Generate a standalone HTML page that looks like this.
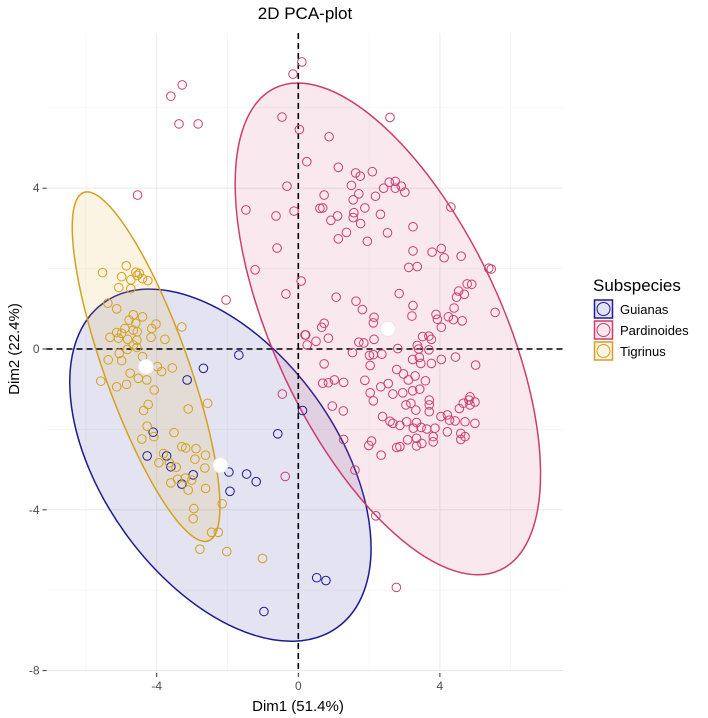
<!DOCTYPE html>
<html><head><meta charset="utf-8">
<style>
body{margin:0;background:#fff;}
svg{display:block;font-family:"Liberation Sans",Arial,sans-serif;}
</style></head>
<body>
<svg id="chart" width="708" height="718" viewBox="0 0 708 718"></svg>
<script>
const groups=["Guianas","Pardinoides","Tigrinus"];
const colors=["#1c1c8f","#cc3d6e","#d4a020"];
const fills=["rgba(28,28,143,0.12)","rgba(220,80,130,0.13)","rgba(230,180,60,0.15)"];
const xTicks=[-4,0,4];
const yTicks=[4,0,-4,-8];
const xMinor=[-6,-2,2,6];
const yMinor=[6,2,-2,-6];
const guianasX=[-1.68,-2.68,-3.14,-4.1,-4.27,-3.72,-3.6,-3.29,-2.97,-1.96,-1.93,-1.46,-1.19,-0.58,0.12,0.52,0.78,-0.97];
const guianasY=[-0.15,-0.48,-0.77,-2.07,-2.66,-2.66,-2.93,-3.36,-3.13,-3.06,-3.54,-3.11,-3.3,-2.11,-1.53,-5.69,-5.76,-6.53];
const pardX=[0.1,-0.15,-3.6,-3.28,-3.37,-2.83,-4.54,-0.46,-0.32,-1.48,-0.63,-0.12,-0.6,-1.22,0.08,-0.35,-2.04,0.19,
0.03,0.87,2.59,0.24,1.13,1.62,1.75,2.09,1.5,1.71,1.55,2.18,2.41,2.57,2.74,2.91,3.01,2.74,0.73,0.61,0.69,0.92,1.11,1.57,1.88,1.55,1.76,2.32,1.36,1.13,1.95,2.52,3.24,4.31,3.24,3.78,4.04,4.12,4.6,3.12,3.36,5.38,5.45,1.07,2.85,4.77,4.9,4.53,4.69,4.47,1.63,1.81,3.24,3.21,4.4,5.56,3.89,3.93,4.24,4.38,4.63,4.04,2.14,2.12,0.73,0.66,0.21,0.25,0.5,0.85,1.71,1.85,2.14,3.51,3.69,3.76,3.36,3.4,2.81,3.69,1.53,2.01,2.12,2.36,3.23,3.42,3.46,3.76,4.04,4.44,5.01,0.73,2.03,2.78,2.97,3.3,3.11,3.59,0.69,0.85,1.02,1.28,1.88,2.54,2.33,2.03,2.67,2.95,3.23,3.43,-0.45,4.85,
2.12,3.18,3.04,3.7,3.7,3.7,3.32,4.55,4.82,4.99,4.85,4.66,0.96,1.27,2.38,2.59,2.67,2.87,3.06,3.34,3.25,3.47,3.63,3.86,4.03,4.21,4.27,4.43,4.71,4.99,4.21,4.59,4.71,4.59,3.81,3.81,3.49,3.34,3.34,3.09,2.78,2.87,2.07,1.99,2.34,1.28,1.6,-0.37,2.19,2.77];
const pardY=[7.14,6.84,6.29,6.57,5.6,5.6,3.83,5.77,4.05,3.46,3.31,3.43,2.51,1.97,1.69,1.37,1.22,0.35,
5.46,5.28,5.76,4.66,4.52,4.38,4.3,4.41,4.07,3.86,3.71,3.8,4.0,4.15,4.17,4.05,3.9,4.0,3.83,3.5,3.51,3.2,3.31,3.39,3.51,3.27,3.12,3.35,2.9,2.74,2.68,2.89,3.04,3.53,2.44,2.41,2.5,2.27,2.31,2.03,2.05,2.01,1.99,1.29,1.38,1.62,1.61,1.44,1.36,1.29,1.19,0.98,1.08,0.82,1.02,0.91,0.86,0.74,0.8,0.73,0.7,0.54,0.79,0.65,0.64,0.54,0.35,0.1,0.19,0.27,0.17,0.15,0.24,0.31,0.32,0.24,0.09,0,0.01,-0.02,-0.09,-0.16,-0.14,-0.13,-0.26,-0.21,-0.36,-0.36,-0.26,-0.2,-0.4,-0.37,-0.41,-0.51,-0.62,-0.67,-0.77,-0.79,-0.85,-0.84,-0.77,-0.83,-0.78,-0.86,-0.94,-1.09,-1.12,-1.09,-1.04,-1.0,-1.12,-1.19,
-1.29,-1.35,-1.39,-1.27,-1.39,-1.56,-1.52,-1.48,-1.27,-1.32,-1.39,-1.35,-1.42,-1.54,-1.68,-1.8,-1.85,-1.9,-1.81,-1.83,-1.97,-1.95,-1.99,-1.97,-1.68,-1.64,-1.77,-1.79,-1.81,-1.85,-2.06,-2.1,-2.18,-2.25,-2.18,-2.31,-2.35,-2.41,-2.22,-2.26,-2.45,-2.43,-2.29,-2.4,-2.64,-2.25,-3.01,-3.17,-4.15,-5.93];
const tigX=[-5.53,-4.86,-4.99,-4.73,-4.59,-4.49,-4.55,-4.4,-4.25,-5.07,-4.73,-5.38,-5.13,-4.66,-4.4,-4.02,-4.14,-4.78,-4.59,-4.9,-4.66,-4.55,-5.13,-5.32,-5.08,-4.82,-4.56,-4.16,-3.77,-3.29,-4.66,-4.99,
-5.06,-4.83,-4.56,-5.37,-4.99,-4.4,-3.98,-3.86,-3.56,-4.75,-5.58,-5.13,-4.85,-4.52,-4.28,-4.07,-4.24,-4.37,-3.11,-2.56,-4.27,-3.51,-4.42,-4.08,-3.29,-3.18,-2.89,-3.81,-2.92,-2.62,-3.94,-3.64,-3.45,-2.64,-3.41,-3.19,-3.01,-3.6,-3.11,-2.62,-2.15,-2.95,-2.97,-2.45,-2.26,-2.78,-2.02,-1.01];
const tigY=[1.9,2.07,1.8,1.72,1.91,1.88,1.83,1.75,1.7,1.53,1.5,1.14,1.0,0.85,0.8,0.62,0.51,0.72,0.64,0.51,0.47,0.43,0.41,0.29,0.27,0.24,0.22,0.29,0.24,0.55,0.1,0.39,
-0.11,-0.01,0.04,-0.27,-0.29,-0.19,-0.44,-0.56,-0.47,-0.6,-0.8,-0.94,-0.88,-0.73,-0.77,-1.02,-1.38,-1.53,-1.49,-1.35,-1.92,-2.08,-2.24,-2.18,-2.43,-2.46,-2.48,-2.6,-2.74,-2.64,-2.83,-2.83,-2.94,-2.96,-3.24,-3.21,-3.26,-3.33,-3.51,-3.47,-3.85,-3.97,-4.22,-4.56,-4.56,-4.98,-5.04,-5.21];
const meanX=[-2.2,2.53,-4.3];
const meanY=[-2.89,0.5,-0.44];
// ellipse geometry (pixel semi-axes, rotation)
const ellRx=[117,114,42];
const ellRy=[200,266,185];
const ellRot=[-35.8,-25,-19.7];

const L=46.5,R=563,T=33,B=673;
const X=v=>298.3+v*35.4;
const Y=v=>349-v*40.2;
const NS="http://www.w3.org/2000/svg";
const svg=document.getElementById('chart');
function mk(tag,attrs,parent){const e=document.createElementNS(NS,tag);for(const k in attrs)e.setAttribute(k,attrs[k]);(parent||svg).appendChild(e);return e;}

const grid=mk('g',{});


xMinor.forEach(v=>mk('line',{x1:X(v),x2:X(v),y1:T,y2:B,stroke:'#f2f2f2','stroke-width':0.6},grid));
yMinor.forEach(v=>mk('line',{x1:L,x2:R,y1:Y(v),y2:Y(v),stroke:'#f2f2f2','stroke-width':0.6},grid));
xTicks.forEach(v=>mk('line',{x1:X(v),x2:X(v),y1:T,y2:B,stroke:'#ebebeb','stroke-width':1.1},grid));
yTicks.forEach(v=>mk('line',{x1:L,x2:R,y1:Y(v),y2:Y(v),stroke:'#ebebeb','stroke-width':1.1},grid));

[0,1,2].forEach(i=>{
  const cx=X(meanX[i]),cy=Y(meanY[i]);
  const e=mk('ellipse',{cx:cx,cy:cy,rx:ellRx[i],ry:ellRy[i],transform:`rotate(${ellRot[i]} ${cx} ${cy})`,fill:fills[i],stroke:colors[i],'stroke-width':1.5});
  
  
});

const z1=mk('line',{x1:L,x2:R,y1:Y(0),y2:Y(0),stroke:'#000','stroke-width':1.6,'stroke-dasharray':'6,4'});


const z2=mk('line',{x1:X(0),x2:X(0),y1:T,y2:B,stroke:'#000','stroke-width':1.6,'stroke-dasharray':'6,4'});



const sets=[[guianasX,guianasY],[pardX,pardY],[tigX,tigY]];
sets.forEach((s,i)=>{
  const g=mk('g',{});
  
  
  s[0].forEach((x,j)=>{
    const c=mk('circle',{cx:X(x),cy:Y(s[1][j]),r:4.3,fill:'none',stroke:colors[i],'stroke-width':1},g);
    
    
  });
});
[0,1,2].forEach(i=>{
  const c=mk('circle',{cx:X(meanX[i]),cy:Y(meanY[i]),r:7.5,fill:'#fff',stroke:'#e8e8e8','stroke-width':1});
  
  
});

xTicks.forEach(v=>{
  mk('line',{x1:X(v),x2:X(v),y1:B,y2:B+4,stroke:'#333','stroke-width':1});
  const t=mk('text',{x:X(v),y:B+17,'text-anchor':'middle','font-size':12,fill:'#4d4d4d'});
  t.textContent=v;
  
  
});
yTicks.forEach(v=>{
  mk('line',{x1:L-4,x2:L,y1:Y(v),y2:Y(v),stroke:'#333','stroke-width':1});
  const t=mk('text',{x:L-7,y:Y(v)+4,'text-anchor':'end','font-size':12,fill:'#4d4d4d'});
  t.textContent=v;
  
  
});
const xt=mk('text',{x:298,y:711,'text-anchor':'middle','font-size':15,fill:'#000'});
xt.textContent='Dim1 (51.4%)';


const yt=mk('text',{x:0,y:0,transform:'translate(19,349) rotate(-90)','text-anchor':'middle','font-size':15,fill:'#000'});
yt.textContent='Dim2 (22.4%)';


const tt=mk('text',{x:305,y:19,'text-anchor':'middle','font-size':17,fill:'#000'});
tt.textContent='2D PCA-plot';



const lg=mk('g',{});


const lt=mk('text',{x:593,y:291,'font-size':17,fill:'#000'},lg);
lt.textContent='Subspecies';


groups.forEach((gname,i)=>{
  const cy=309+i*21;
  const e=mk('g',{},lg);
  
  
  mk('rect',{x:594.5,y:cy-9,width:18,height:18,fill:fills[i],stroke:colors[i],'stroke-width':1.5},e);
  mk('circle',{cx:603.5,cy:cy,r:6.5,fill:'none',stroke:colors[i],'stroke-width':1},e);
  const t=mk('text',{x:620,y:cy+5,'font-size':13,fill:'#000'},e);
  t.textContent=gname;
});
</script>
</body></html>
